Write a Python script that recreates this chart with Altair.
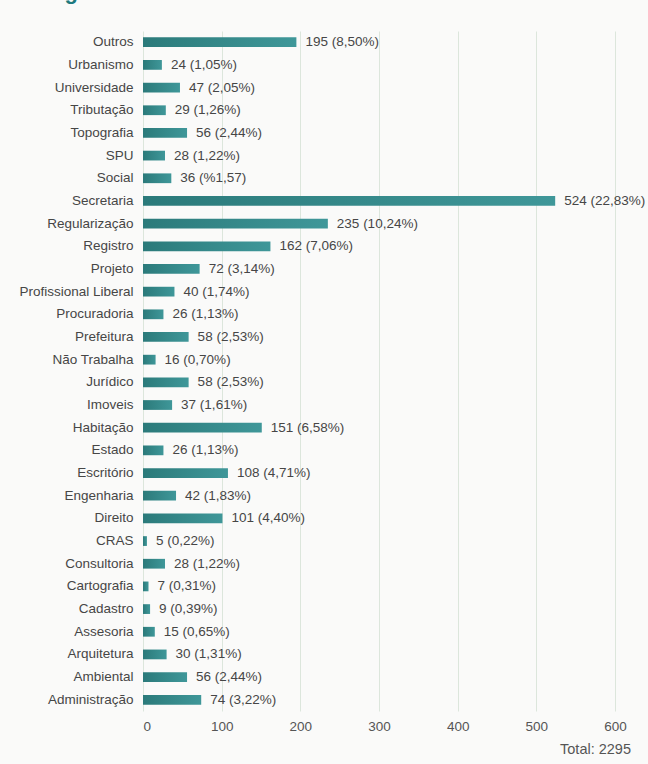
import altair as alt
import pandas as pd

categories = ["Outros", "Urbanismo", "Universidade", "Tributação", "Topografia", "SPU",
              "Social", "Secretaria", "Regularização", "Registro", "Projeto",
              "Profissional Liberal", "Procuradoria", "Prefeitura", "Não Trabalha",
              "Jurídico", "Imoveis", "Habitação", "Estado", "Escritório", "Engenharia",
              "Direito", "CRAS", "Consultoria", "Cartografia", "Cadastro", "Assesoria",
              "Arquitetura", "Ambiental", "Administração"]
values = [195, 24, 47, 29, 56, 28, 36, 524, 235, 162, 72, 40, 26, 58, 16, 58, 37, 151,
          26, 108, 42, 101, 5, 28, 7, 9, 15, 30, 56, 74]
pct_labels = ["8,50%", "1,05%", "2,05%", "1,26%", "2,44%", "1,22%", "%1,57", "22,83%",
              "10,24%", "7,06%", "3,14%", "1,74%", "1,13%", "2,53%", "0,70%", "2,53%",
              "1,61%", "6,58%", "1,13%", "4,71%", "1,83%", "4,40%", "0,22%", "1,22%",
              "0,31%", "0,39%", "0,65%", "1,31%", "2,44%", "3,22%"]
x_ticks = [0, 100, 200, 300, 400, 500, 600]
total_text = "Total: 2295"
title_fragment = "Figura"

df = pd.DataFrame({
    "cat": categories,
    "val": values,
    "label": [f"{v} ({p})" for v, p in zip(values, pct_labels)],
})

W, H = 505, 680
FONT = "Liberation Sans"

x = alt.X("val:Q", scale=alt.Scale(domain=[0, 642], nice=False),
          axis=alt.Axis(values=x_ticks, title=None, domain=False, ticks=False,
                        labelPadding=8, labelFontSize=13.5, labelColor="#555555",
                        labelFont=FONT, gridColor="#dce6dc", gridWidth=1))
y = alt.Y("cat:N", sort=categories,
          scale=alt.Scale(paddingInner=0.57, paddingOuter=0.28),
          axis=alt.Axis(title=None, domain=False, ticks=False, labelPadding=10,
                        labelFontSize=13.5, labelColor="#464646", labelFont=FONT,
                        grid=False))

bars = alt.Chart(df).mark_bar(
    color=alt.Gradient(gradient="linear",
                       stops=[alt.GradientStop(color="#2b7a7a", offset=0),
                              alt.GradientStop(color="#3f9799", offset=1)],
                       x1=0, x2=1, y1=0, y2=0)
).encode(x=x, y=y)

texts = alt.Chart(df).mark_text(align="left", baseline="middle", dx=9,
                                fontSize=13.5, font=FONT, color="#464646").encode(
    x="val:Q", y=alt.Y("cat:N", sort=categories), text="label:N")

total = alt.Chart(pd.DataFrame({"t": [total_text]})).mark_text(
    align="right", baseline="middle", fontSize=14.5, font=FONT, color="#555555"
).encode(x=alt.value(W - 17), y=alt.value(H + 39), text="t:N")

title = alt.Chart(pd.DataFrame({"t": [title_fragment]})).mark_text(
    align="left", baseline="alphabetic", fontSize=22, fontWeight="bold",
    font=FONT, color="#1f7a7e"
).encode(x=alt.value(-98), y=alt.value(-32), text="t:N")

chart = alt.layer(bars, texts, total, title).properties(
    width=W, height=H,
    autosize=alt.AutoSizeParams(type="none"),
    padding={"left": 143, "top": 31, "right": 0, "bottom": 53},
    background="#fafaf9",
).configure_view(stroke=None)

chart.save("out.html", embed_options={"renderer": "svg", "actions": False})
